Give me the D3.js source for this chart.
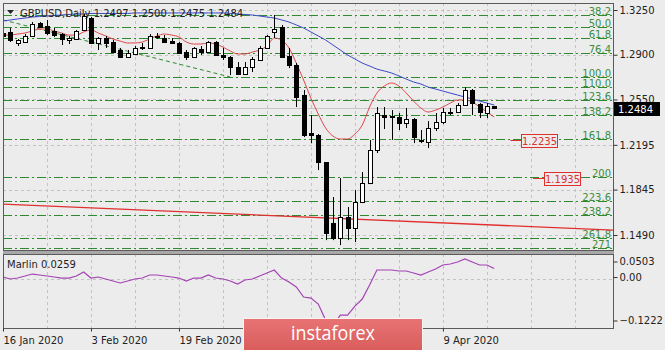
<!DOCTYPE html>
<html>
<head>
<meta charset="utf-8">
<script src="https://cdnjs.cloudflare.com/ajax/libs/d3/7.8.5/d3.min.js"></script>
<style>
body { margin: 0; background: #ececec; }
svg text { font-family: "DejaVu Sans", sans-serif; font-size: 10px; }
</style>
</head>
<body>
<div id="chart"></div>
<script>
// daily bars, 16 Jan 2020 .. 20 Apr 2020
var open = [1.3070,1.3078,1.2992,1.3000,1.3047,1.3148,1.3125,1.3086,1.3062,1.3015,
            1.3023,1.3094,1.3187,1.2992,1.3031,1.3000,1.2937,1.2882,1.2906,1.2953,
            1.2953,1.3039,1.3031,1.3007,1.2992,1.2921,1.2882,1.2945,1.2921,1.3000,
            1.2898,1.2882,1.2804,1.2749,1.2804,1.2859,1.2953,1.3078,1.3117,1.2890,
            1.2820,1.2585,1.2288,1.2272,1.2061,1.1583,1.1466,1.1630,1.1544,1.1748,
            1.1896,1.2154,1.2428,1.2421,1.2413,1.2366,1.2397,1.2236,1.2217,1.2327,
            1.2374,1.2452,1.2452,1.2507,1.2624,1.2514,1.2444,1.2497];
var high = [1.3094,1.3109,1.3023,1.3062,1.3156,1.3156,1.3172,1.3109,1.3070,1.3047,
            1.3094,1.3219,1.3195,1.3039,1.3047,1.3015,1.2953,1.2937,1.2968,1.2992,
            1.3062,1.3070,1.3054,1.3031,1.3000,1.2937,1.2960,1.2968,1.3007,1.3007,
            1.2953,1.2890,1.2843,1.2843,1.2882,1.2968,1.3054,1.3211,1.3133,1.2953,
            1.2835,1.2624,1.2428,1.2280,1.2061,1.1787,1.1935,1.1709,1.1841,1.1982,
            1.2233,1.2491,1.2491,1.2467,1.2444,1.2483,1.2405,1.2311,1.2381,1.2444,
            1.2483,1.2483,1.2522,1.2647,1.2632,1.2522,1.2522,1.2500];
var low  = [1.3031,1.3000,1.2968,1.2996,1.3039,1.3109,1.3054,1.3039,1.2976,1.2984,
            1.3015,1.3086,1.2984,1.2937,1.2953,1.2914,1.2874,1.2874,1.2898,1.2937,
            1.2945,1.3023,1.2992,1.2984,1.2906,1.2859,1.2874,1.2898,1.2914,1.2890,
            1.2859,1.2741,1.2741,1.2741,1.2765,1.2859,1.2945,1.3031,1.2874,1.2796,
            1.2491,1.2256,1.2209,1.1998,1.1450,1.1450,1.1411,1.1450,1.1435,1.1740,
            1.1888,1.2131,1.2319,1.2233,1.2311,1.2327,1.2209,1.2209,1.2170,1.2303,
            1.2358,1.2428,1.2444,1.2499,1.2428,1.2405,1.2405,1.2475];
var close = [1.3047,1.3015,1.3015,1.3047,1.3140,1.3117,1.3070,1.3054,1.3023,1.3031,
            1.3086,1.3203,1.2992,1.3031,1.2992,1.2921,1.2882,1.2914,1.2953,1.2960,
            1.3047,1.3047,1.3000,1.2992,1.2914,1.2882,1.2953,1.2921,1.3000,1.2898,
            1.2882,1.2804,1.2749,1.2804,1.2867,1.2953,1.3047,1.3101,1.2882,1.2820,
            1.2569,1.2272,1.2272,1.2061,1.1505,1.1466,1.1630,1.1544,1.1748,1.1896,
            1.2154,1.2444,1.2413,1.2417,1.2366,1.2397,1.2256,1.2233,1.2327,1.2374,
            1.2452,1.2455,1.2507,1.2624,1.2522,1.2452,1.2499,1.2484];

// moving averages
var redMa = [1.3054,1.3054,1.3062,1.3070,1.3086,1.3101,1.3101,1.3086,1.3070,1.3054,
             1.3054,1.3078,1.3094,1.3070,1.3047,1.3023,1.3007,1.2992,1.2992,1.3000,
             1.3023,1.3047,1.3062,1.3054,1.3039,1.3000,1.2984,1.2984,1.2992,1.2984,
             1.2960,1.2929,1.2906,1.2906,1.2921,1.2937,1.2968,1.3031,1.3015,1.2953,
             1.2835,1.2702,1.2561,1.2436,1.2327,1.2264,1.2241,1.2241,1.2280,1.2350,
             1.2491,1.2600,1.2655,1.2679,1.2655,1.2600,1.2538,1.2483,1.2452,1.2467,
             1.2491,1.2522,1.2546,1.2546,1.2530,1.2491,1.2452,1.2413];
var blueMa = [1.3164,1.3172,1.3180,1.3187,1.3195,1.3199,1.3203,1.3207,1.3211,1.3215,
              1.3219,1.3219,1.3223,1.3223,1.3223,1.3223,1.3223,1.3223,1.3227,1.3227,
              1.3227,1.3227,1.3227,1.3227,1.3227,1.3227,1.3227,1.3227,1.3227,1.3227,
              1.3227,1.3223,1.3219,1.3215,1.3211,1.3203,1.3195,1.3187,1.3172,1.3156,
              1.3133,1.3109,1.3078,1.3047,1.3015,1.2976,1.2937,1.2898,1.2867,1.2835,
              1.2812,1.2788,1.2773,1.2757,1.2734,1.2710,1.2687,1.2671,1.2647,1.2632,
              1.2616,1.2600,1.2585,1.2569,1.2554,1.2538,1.2522,1.2507];
var marlin = [0.0039,-0.0012,0.0013,0.0065,0.0116,0.0091,0.0065,0.0039,0.0013,0.0013,
              0.0065,0.0168,0.0013,0.0039,-0.0012,-0.0064,-0.0115,-0.0064,-0.0012,0.0013,
              0.0091,0.0091,0.0065,0.0039,0.0013,-0.0064,0.0013,0.0013,0.0091,0.0013,
              -0.0012,-0.0064,-0.0141,-0.0038,-0.0012,0.0065,0.0142,0.0220,0.0013,-0.0090,
              -0.0218,-0.0476,-0.0502,-0.0657,-0.1069,-0.1222,-0.0940,-0.0940,-0.0708,-0.0528,
              -0.0167,0.0220,0.0220,0.0220,0.0194,0.0194,0.0142,0.0091,0.0168,0.0245,
              0.0348,0.0374,0.0426,0.0503,0.0426,0.0348,0.0348,0.0259];

var fibLabels = ["38.2","50.0","61.8","76.4","100.0","110.0","123.6","138.2","161.8","200","223.6","238.2","261.8","271"];
var fibPrices = [1.3211,1.3117,1.3031,1.2914,1.2726,1.2647,1.2546,1.2428,1.2241,1.1943,1.1758,1.1644,1.1468,1.1390];

var priceTicks = [1.3250,1.2900,1.2550,1.2195,1.1845,1.1490];
var marlinTicks = [0.0503,0,-0.1222];
var dateTicks = [0,12,24,60];
var dateLabels = ["16 Jan 2020","3 Feb 2020","19 Feb 2020","9 Apr 2020"];

var markerPrices = [1.2235,1.1935];
var markerStart = [69.2,72.3];
var fibTrend = [[0,1.3172],[31,1.2726]];
var longTrend = [[0,1.1732],[83.2,1.1528]];
var lastPrice = 1.2484;

var W = 665, H = 350;
var pl = 3, pr = 613, pt = 3, mainBottom = 250, indTop = 254, indBottom = 328;

var x = d3.scaleLinear().domain([0,83.2]).range([pl,pr]),
    y = d3.scaleLinear().domain([1.1490,1.3250]).range([235,10]),
    ym = d3.scaleLinear().domain([-0.1222,0.0503]).range([326,259]);

var bars = open.map(function(o,i){
  return {i:i, o:o, h:high[i], l:low[i], c:close[i]};
});

function py(d){ return Math.round(y(d)) + 0.5; }

var svg = d3.select("#chart").append("svg")
    .attr("width", W)
    .attr("height", H);

svg.append("rect").attr("width", W).attr("height", H).attr("fill", "#ececec");

var defs = svg.append("defs");
defs.append("clipPath").attr("id","clipMain").append("rect")
    .attr("x", pl).attr("y", pt).attr("width", pr-pl).attr("height", mainBottom-pt);
defs.append("clipPath").attr("id","clipInd").append("rect")
    .attr("x", pl).attr("y", indTop).attr("width", pr-pl).attr("height", indBottom-indTop);
var grad = defs.append("linearGradient").attr("id","logoGrad").attr("x1",0).attr("y1",0).attr("x2",0).attr("y2",1);
grad.append("stop").attr("offset","0%").attr("stop-color","#e87373");
grad.append("stop").attr("offset","100%").attr("stop-color","#d95c5c");

var main = svg.append("g").attr("clip-path","url(#clipMain)");
var ind = svg.append("g").attr("clip-path","url(#clipInd)");

// grid
var gridX = d3.range(0, 84, 6);
main.selectAll(".vgrid").data(gridX).enter().append("line")
    .attr("x1", function(d){ return Math.round(x(d))+0.5; }).attr("x2", function(d){ return Math.round(x(d))+0.5; })
    .attr("y1", pt).attr("y2", mainBottom)
    .attr("stroke","#c3c3c3").attr("stroke-dasharray","3,3");
ind.selectAll(".vgrid").data(gridX).enter().append("line")
    .attr("x1", function(d){ return Math.round(x(d))+0.5; }).attr("x2", function(d){ return Math.round(x(d))+0.5; })
    .attr("y1", indTop).attr("y2", indBottom)
    .attr("stroke","#c3c3c3").attr("stroke-dasharray","3,3");
main.selectAll(".hgrid").data(priceTicks).enter().append("line")
    .attr("x1", pl).attr("x2", pr)
    .attr("y1", py).attr("y2", py)
    .attr("stroke","#c3c3c3").attr("stroke-dasharray","3,3");
ind.append("line")
    .attr("x1", pl).attr("x2", pr)
    .attr("y1", Math.round(ym(0))+0.5).attr("y2", Math.round(ym(0))+0.5)
    .attr("stroke","#c3c3c3").attr("stroke-dasharray","3,3");

// current price line
main.append("line")
    .attr("x1", pl).attr("x2", pr)
    .attr("y1", py(lastPrice)).attr("y2", py(lastPrice))
    .attr("stroke","#c8c8c8");

// fibo levels
main.selectAll(".fib").data(fibPrices).enter().append("line")
    .attr("x1", pl).attr("x2", pr)
    .attr("y1", py).attr("y2", py)
    .attr("stroke","#2e8a2e").attr("stroke-dasharray","9,3,2,3");
main.selectAll(".fibl").data(fibPrices).enter().append("text")
    .attr("x", pr-2)
    .attr("y", function(d){ return Math.round(y(d)); })
    .attr("text-anchor","end")
    .attr("fill","#3c8c3c")
    .text(function(d,i){ return fibLabels[i]; });
main.append("line")
    .attr("x1", x(fibTrend[0][0])).attr("y1", y(fibTrend[0][1]))
    .attr("x2", x(fibTrend[1][0])).attr("y2", y(fibTrend[1][1]))
    .attr("stroke","#2e8a2e").attr("stroke-dasharray","4,3");

// long red line
main.append("line")
    .attr("x1", x(longTrend[0][0])).attr("y1", y(longTrend[0][1]))
    .attr("x2", x(longTrend[1][0])).attr("y2", y(longTrend[1][1]))
    .attr("stroke","#e0302e").attr("stroke-width",1.3);

// moving averages
var maLine = d3.line().x(function(d,i){ return x(i); }).y(function(d){ return y(d); }).curve(d3.curveMonotoneX);
main.append("path").datum(blueMa).attr("d", maLine)
    .attr("fill","none").attr("stroke","#3a46c8").attr("stroke-width",1);
main.append("path").datum(redMa).attr("d", maLine)
    .attr("fill","none").attr("stroke","#e0474c").attr("stroke-width",1);

// candles
var cw = 5;
var candle = main.selectAll(".candle").data(bars).enter().append("g").attr("class","candle");
candle.append("line")
    .attr("x1", function(d){ return Math.round(x(d.i))+0.5; })
    .attr("x2", function(d){ return Math.round(x(d.i))+0.5; })
    .attr("y1", function(d){ return y(d.h); })
    .attr("y2", function(d){ return y(d.l); })
    .attr("stroke","#000");
candle.append("rect")
    .attr("x", function(d){ return Math.round(x(d.i)) + 0.5 - (cw-1)/2; })
    .attr("y", function(d){ return Math.round(y(Math.max(d.o,d.c))) + 0.5; })
    .attr("width", cw-1)
    .attr("height", function(d){ return Math.max(1, Math.round(Math.abs(y(d.o)-y(d.c)))); })
    .attr("fill", function(d){ return d.c >= d.o ? "#fff" : "#000"; })
    .attr("stroke","#000");

// price markers
markerPrices.forEach(function(p,i){
  var yy = py(p), x0 = x(markerStart[i]), bx = Math.round(x0+11)+0.5;
  main.append("line").attr("x1", x0).attr("x2", bx).attr("y1", yy).attr("y2", yy)
      .attr("stroke","#e0302e");
  main.append("rect").attr("x", bx).attr("y", yy-6).attr("width", 36).attr("height", 13)
      .attr("fill","#ececec").attr("stroke","#e0302e");
  main.append("text").attr("x", bx+18).attr("y", yy+4).attr("text-anchor","middle")
      .attr("fill","#e0302e").text(d3.format(".4f")(p));
});

// marlin
var mLine = d3.line().x(function(d,i){ return x(i); }).y(function(d){ return ym(d); });
ind.append("path").datum(marlin).attr("d", mLine)
    .attr("fill","none").attr("stroke","#a443b4").attr("stroke-width",1.2);

// frames
svg.append("rect").attr("x", pl+0.5).attr("y", pt+0.5).attr("width", pr-pl).attr("height", mainBottom-pt)
    .attr("fill","none").attr("stroke","#5a5a5a");
svg.append("rect").attr("x", pl).attr("y", mainBottom+1).attr("width", pr-pl+1).attr("height", indTop-mainBottom-1)
    .attr("fill","#a8a8a8");
svg.append("rect").attr("x", pl+0.5).attr("y", indTop+0.5).attr("width", pr-pl).attr("height", indBottom-indTop)
    .attr("fill","none").attr("stroke","#5a5a5a");

// axes
var yAxis = d3.axisRight(y).tickValues(priceTicks).tickSize(4).tickPadding(2).tickFormat(d3.format(".4f"));
var ga = svg.append("g").attr("transform","translate(" + (pr+0.5) + ",0)").call(yAxis);
ga.select(".domain").remove();
ga.selectAll("text").attr("fill","#222").style("font-size","10px").style("font-family","DejaVu Sans");
ga.selectAll("line").attr("stroke","#333");

var mAxis = d3.axisRight(ym).tickValues(marlinTicks).tickSize(4).tickPadding(2)
    .tickFormat(function(d){ return d === 0 ? "0.00" : d3.format(".4f")(d); });
var gm = svg.append("g").attr("transform","translate(" + (pr+0.5) + ",0)").call(mAxis);
gm.select(".domain").remove();
gm.selectAll(".tick").attr("transform", function(d){
  var off = d === marlinTicks[0] ? 3 : (d === marlinTicks[2] ? -5 : -1);
  return "translate(0," + (ym(d)+off) + ")";
});
gm.selectAll("text").attr("fill","#222").style("font-size","10px").style("font-family","DejaVu Sans");
gm.selectAll("line").attr("stroke","#333");

var xAxis = d3.axisBottom(x).tickValues(dateTicks).tickSize(3).tickPadding(5)
    .tickFormat(function(d,i){ return dateLabels[i]; });
var gx = svg.append("g").attr("transform","translate(0," + (indBottom+0.5) + ")").call(xAxis);
gx.select(".domain").remove();
gx.selectAll("text").attr("text-anchor","start").attr("fill","#222")
    .style("font-size","10px").style("font-family","DejaVu Sans");
gx.selectAll("line").attr("stroke","#333");

// last price tag
var ly = Math.round(y(lastPrice));
svg.append("rect").attr("x", pr+1).attr("y", ly-6).attr("width", 46).attr("height", 14).attr("fill","#000");
svg.append("text").attr("x", pr+5).attr("y", ly+5).attr("fill","#fff").text(d3.format(".4f")(lastPrice));

// titles
svg.append("path").attr("d","M7,10 L14,10 L10.5,14 Z").attr("fill","#222");
svg.append("text").attr("x", 20).attr("y", 17).attr("fill","#222")
    .text("GBPUSD,Daily  " + [open[67],high[67],low[67],close[67]].map(d3.format(".4f")).join(" "));
svg.append("text").attr("x", 7).attr("y", 268).attr("fill","#222").text("Marlin 0.0259");

// logo
svg.append("rect").attr("x", 243.5).attr("y", 318.5).attr("width", 179).attr("height", 33)
    .attr("fill","url(#logoGrad)").attr("stroke","#f4f4f4");
svg.append("text").attr("x", 333).attr("y", 340).attr("text-anchor","middle")
    .attr("fill","#fff").style("font-family","Open Sans").style("font-size","20px")
    .attr("textLength", 84).attr("lengthAdjust","spacingAndGlyphs")
    .text("instaforex");
</script>
</body>
</html>
